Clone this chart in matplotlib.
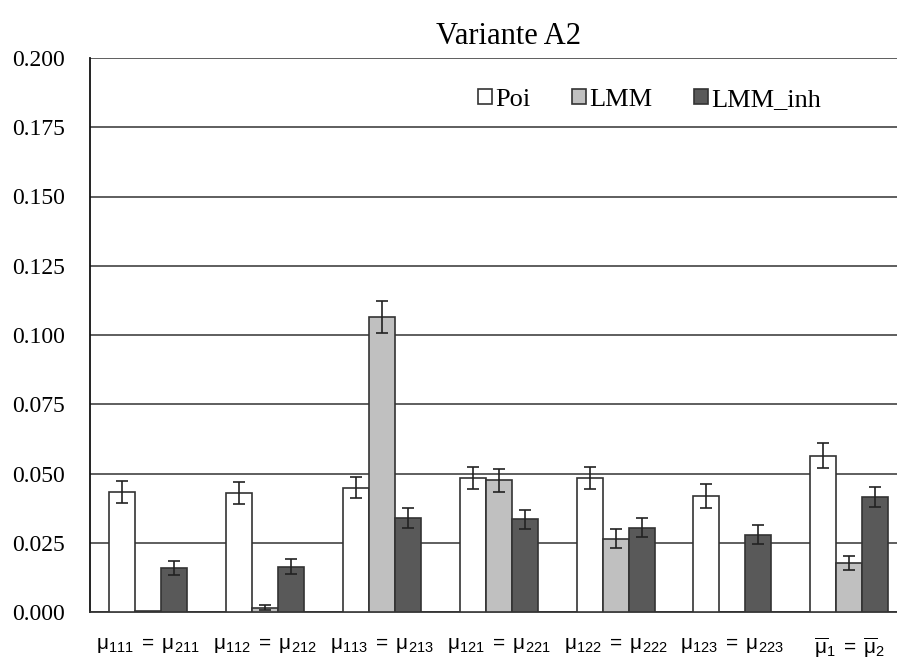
import numpy as np
import matplotlib.pyplot as plt

plt.rcParams["font.family"] = ["Liberation Serif", "DejaVu Serif"]
plt.rcParams["mathtext.fontset"] = "custom"
plt.rcParams["mathtext.rm"] = "Liberation Sans"
plt.rcParams["mathtext.it"] = "Liberation Sans:italic"
plt.rcParams["mathtext.bf"] = "Liberation Sans:bold"

categories = [
    r"$\mathrm{\mu_{111}\;=\;\mu_{211}}$",
    r"$\mathrm{\mu_{112}\;=\;\mu_{212}}$",
    r"$\mathrm{\mu_{113}\;=\;\mu_{213}}$",
    r"$\mathrm{\mu_{121}\;=\;\mu_{221}}$",
    r"$\mathrm{\mu_{122}\;=\;\mu_{222}}$",
    r"$\mathrm{\mu_{123}\;=\;\mu_{223}}$",
    r"$\mathrm{\overline{\mu}_{1}\;=\;\overline{\mu}_{2}}$",
]
series = ["Poi", "LMM", "LMM_inh"]
poi = [0.0434, 0.0429, 0.0449, 0.0485, 0.0485, 0.0420, 0.0564]
lmm = [0.0004, 0.0016, 0.1066, 0.0475, 0.0265, 0.0, 0.0178]
lmm_inh = [0.0159, 0.0164, 0.0340, 0.0335, 0.0304, 0.0279, 0.0415]
poi_err = [0.0040, 0.0039, 0.0039, 0.0040, 0.0040, 0.0043, 0.0045]
lmm_err = [0.0, 0.0009, 0.0057, 0.0040, 0.0035, 0.0, 0.0025]
lmm_inh_err = [0.0025, 0.0028, 0.0035, 0.0035, 0.0034, 0.0035, 0.0037]
yticks = [0.000, 0.025, 0.050, 0.075, 0.100, 0.125, 0.150, 0.175, 0.200]

colors = ["#ffffff", "#c0c0c0", "#595959"]

fig = plt.figure(figsize=(8.97, 6.62), dpi=100)
ax = fig.add_axes([90 / 897, 50 / 662, 817.6 / 897, 554 / 662])

x = np.arange(len(categories))
w = 0.223
for i, (vals, errs) in enumerate(zip([poi, lmm, lmm_inh], [poi_err, lmm_err, lmm_inh_err])):
    ax.bar(x + (i - 1) * w, vals, w, color=colors[i], edgecolor="#333333",
           linewidth=1.2, label=series[i], zorder=3,
           yerr=[e if e > 0 else np.nan for e in errs],
           error_kw=dict(ecolor="#222222", elinewidth=1.2, capsize=4.5, capthick=1.2, zorder=4))

ax.set_xlim(-0.5, len(categories) - 0.5)
ax.set_ylim(0, 0.2)
ax.set_yticks(yticks)
ax.set_yticklabels([f"{t:.3f}" for t in yticks], fontsize=17)
ax.yaxis.grid(True, color="#333333", linewidth=1.1, zorder=0)
ax.set_axisbelow(True)
ax.set_xticks(x)
ax.set_xticklabels(categories, fontsize=15)
ax.tick_params(axis="both", length=0)
ax.tick_params(axis="x", pad=17)
ax.tick_params(axis="y", pad=18)
for s in ["top", "right"]:
    ax.spines[s].set_visible(False)
ax.spines["left"].set_color("#111111")
ax.spines["left"].set_linewidth(1.3)
ax.spines["bottom"].set_color("#333333")
ax.spines["bottom"].set_linewidth(1.3)

ax.set_title("Variante A2", fontsize=22, x=(508 - 90) / 817.6, pad=10)

ax.legend(loc="center left", bbox_to_anchor=(0.474, (612 - 100) / 554), ncol=3,
          frameon=False, fontsize=19, handlelength=0.53, handleheight=0.53,
          handletextpad=0.15, columnspacing=1.55, borderpad=0, borderaxespad=0)

fig.savefig("out.png", dpi=100)
